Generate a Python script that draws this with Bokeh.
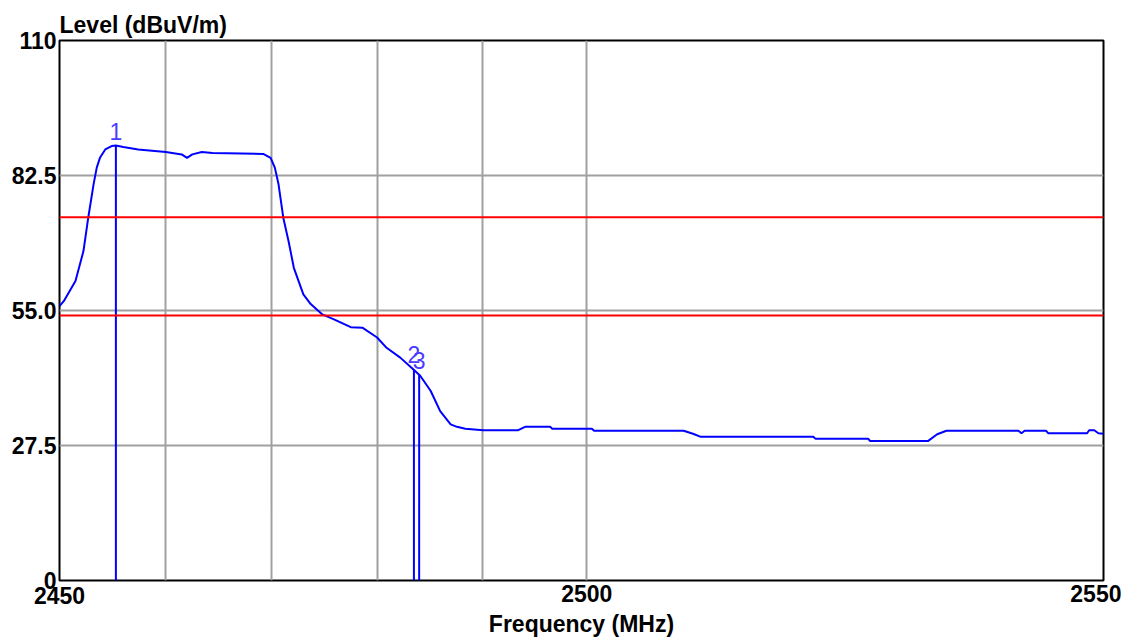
from bokeh.plotting import figure
from bokeh.models import Range1d, FixedTicker, Span, ColumnDataSource, LogAxis
from bokeh.embed import file_html
from bokeh.resources import INLINE
from bokeh.core.properties import value

# ---- data ----
freq_mhz = [2450.0, 2450.4, 2451.5, 2452.25, 2452.7, 2453.2, 2453.5, 2453.8, 2454.3, 2454.9,
            2455.3, 2456.0, 2457.4, 2460.0, 2461.5, 2462.0, 2462.5, 2463.4, 2464.4, 2469.2,
            2469.9, 2470.3, 2470.65, 2471.1, 2471.6, 2472.1, 2472.55, 2473.0, 2473.7, 2474.8,
            2475.9, 2477.5, 2478.6, 2480.0, 2480.9, 2482.2, 2483.3, 2484.1, 2485.1, 2486.0,
            2487.0, 2487.6, 2488.4, 2490.1, 2493.4, 2494.1, 2496.5, 2496.7, 2500.5, 2500.7,
            2509.3, 2510.2, 2510.9, 2520.0, 2521.8, 2522.0, 2527.1, 2527.3, 2532.9, 2533.8,
            2534.7, 2541.7, 2542.0, 2542.3, 2544.4, 2544.6, 2548.4, 2548.6, 2549.1, 2549.5,
            2550.0]
level_dbuv = [55.9, 56.9, 61.0, 67.1, 73.9, 80.7, 84.1, 86.1, 87.8, 88.5,
              88.6, 88.3, 87.8, 87.3, 86.8, 86.1, 86.8, 87.3, 87.1, 86.9,
              86.1, 84.1, 80.7, 73.9, 69.1, 63.7, 61.0, 58.3, 56.3, 54.2,
              53.2, 51.6, 51.5, 49.5, 47.4, 45.4, 43.3, 41.7, 38.6, 34.5,
              31.8, 31.3, 30.9, 30.6, 30.6, 31.3, 31.3, 30.9, 30.9, 30.5,
              30.5, 29.9, 29.3, 29.3, 29.3, 28.9, 28.9, 28.4, 28.4, 29.8,
              30.5, 30.5, 30.0, 30.5, 30.5, 30.0, 30.0, 30.6, 30.6, 30.0,
              29.9]
limit_levels = [74.0, 54.0]
marker_ids = ["1", "2", "3"]
marker_freq = [2455.3, 2483.5, 2484.0]
marker_level = [88.6, 43.0, 41.9]
y_ticks = [0, 27.5, 55, 82.5, 110]
y_tick_labels = ["0", "27.5", "55.0", "82.5", "110"]
y_grid = [27.5, 55, 82.5]
x_grid = [2460, 2470, 2480, 2490, 2500]
x_ticks_centered = [2500, 2550]
x_labels_centered = ["2500", "2550"]
x_ticks_left = [2450]
x_labels_left = ["2450"]
x_start, x_end = 2450, 2550
y_title = "Level (dBuV/m)"
x_title = "Frequency (MHz)"

FONT = "Liberation Sans"
FS = "23px"
LABEL_H = 22      # approximate height of a tick-label box
STANDOFF = 6

p = figure(frame_width=1044, frame_height=540,
           x_axis_type="log",
           x_range=Range1d(x_start, x_end), y_range=Range1d(0, 110),
           output_backend="svg", toolbar_location=None,
           min_border_left=59, min_border_right=18,
           min_border_top=40, min_border_bottom=0)
p.background_fill_color = "white"
p.border_fill_color = "white"
p.outline_line_color = "black"
p.outline_line_width = 2
p.outline_line_alpha = 1.0

# title (y quantity) at top-left
p.title.text = y_title
p.title.align = "left"
p.title.text_font = FONT
p.title.text_font_style = "bold"
p.title.text_font_size = FS
p.title.text_color = "#000000"
p.title.standoff = 5
p.title.offset = 0

# grids
p.xgrid.ticker = FixedTicker(ticks=x_grid)
p.ygrid.ticker = FixedTicker(ticks=y_grid)
for g in (p.xgrid, p.ygrid):
    g.grid_line_color = "#a0a0a0"
    g.grid_line_width = 2
    g.grid_line_alpha = 1.0


def style_axis(ax):
    ax.major_tick_line_color = None
    ax.minor_tick_line_color = None
    ax.major_tick_out = 0
    ax.major_tick_in = 0
    ax.minor_tick_out = 0
    ax.minor_tick_in = 0
    ax.axis_line_color = None
    ax.major_label_text_font = FONT
    ax.major_label_text_font_style = "bold"
    ax.major_label_text_font_size = FS
    ax.major_label_text_color = "#000000"


# y axis
ya = p.yaxis[0]
style_axis(ya)
ya.ticker = FixedTicker(ticks=y_ticks)
ya.major_label_overrides = {t: l for t, l in zip(y_ticks, y_tick_labels)}
ya.major_label_standoff = 3

# x axis for the left-aligned start label (closest to the frame)
xl = LogAxis()
style_axis(xl)
xl.ticker = FixedTicker(ticks=x_ticks_left)
xl.major_label_overrides = {t: l for t, l in zip(x_ticks_left, x_labels_left)}
xl.major_label_text_align = "left"
xl.major_label_standoff = STANDOFF

# main x axis: centered labels on the same row + axis title
xa = p.xaxis[0]
style_axis(xa)
xa.ticker = FixedTicker(ticks=x_ticks_centered)
xa.major_label_overrides = {t: l for t, l in zip(x_ticks_centered, x_labels_centered)}
xa.major_label_standoff = -LABEL_H
xa.axis_label = x_title
xa.axis_label_standoff = 6
xa.axis_label_text_font = FONT
xa.axis_label_text_font_style = "bold"
xa.axis_label_text_font_size = FS
xa.axis_label_text_color = "#000000"

p.below = [xl, xa]

# limit lines
for lv in limit_levels:
    p.add_layout(Span(location=lv, dimension="width", line_color="#ff0000", line_width=2))

# trace
p.line(freq_mhz, level_dbuv, line_color="#0000ff", line_width=2)

# markers
msrc = ColumnDataSource(dict(f=marker_freq, lv=marker_level, t=marker_ids))
p.segment(x0="f", y0=0, x1="f", y1="lv", source=msrc, line_color="#0000ff", line_width=2)
p.text(x="f", y="lv", text="t", source=msrc, text_align="center", text_baseline="bottom",
       y_offset=-6, text_font=value(FONT), text_font_size="23px", text_color="#4a3cff")

open("out.html", "w").write(file_html(p, INLINE))
